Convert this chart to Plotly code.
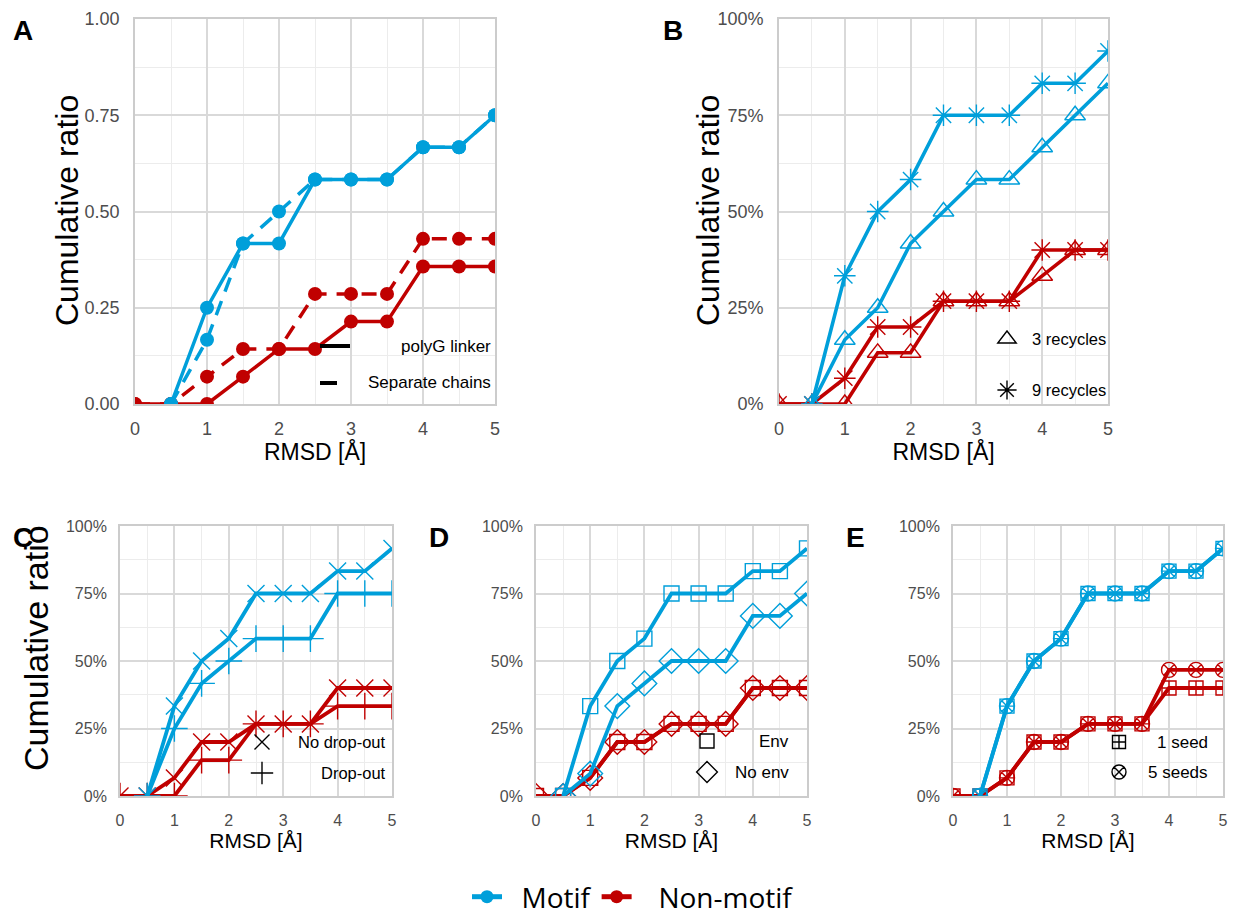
import plotly.graph_objects as go

W, H = 1233, 917
BLUE = "#009FDA"
RED = "#C00000"
FONT = "Liberation Sans"

# ---------------- data ----------------
rmsd = [0, 0.5, 1, 1.5, 2, 2.5, 3, 3.5, 4, 4.5, 5]

# Panel A : polyG linker vs separate chains
a_motif_linker = [None, 0, 0.250, 0.417, 0.417, 0.583, 0.583, 0.583, 0.667, 0.667, 0.750]
a_motif_separate = [None, 0, 0.167, 0.417, 0.500, 0.583, 0.583, 0.583, 0.667, 0.667, 0.750]
a_non_linker = [0, 0, 0, 0.071, 0.143, 0.143, 0.214, 0.214, 0.357, 0.357, 0.357]
a_non_separate = [0, 0, 0.071, 0.143, 0.143, 0.286, 0.286, 0.286, 0.429, 0.429, 0.429]

# Panel B : 3 vs 9 recycles
b_motif_3 = [None, 0, 0.167, 0.250, 0.417, 0.500, 0.583, 0.583, 0.667, 0.750, 0.833]
b_motif_9 = [None, 0, 0.333, 0.500, 0.583, 0.750, 0.750, 0.750, 0.833, 0.833, 0.917]
b_non_3 = [0, 0, 0, 0.133, 0.133, 0.267, 0.267, 0.267, 0.333, 0.400, 0.400]
b_non_9 = [0, 0, 0.067, 0.200, 0.200, 0.267, 0.267, 0.267, 0.400, 0.400, 0.400]

# Panel C : no drop-out vs drop-out
c_motif_nodrop = [None, 0, 0.333, 0.500, 0.583, 0.750, 0.750, 0.750, 0.833, 0.833, 0.917]
c_motif_drop = [None, 0, 0.250, 0.417, 0.500, 0.583, 0.583, 0.583, 0.750, 0.750, 0.750]
c_non_nodrop = [0, 0, 0.067, 0.200, 0.200, 0.267, 0.267, 0.267, 0.400, 0.400, 0.400]
c_non_drop = [0, 0, 0, 0.133, 0.133, 0.267, 0.267, 0.267, 0.333, 0.333, 0.333]

# Panel D : env vs no env
d_motif_env = [None, 0, 0.333, 0.500, 0.583, 0.750, 0.750, 0.750, 0.833, 0.833, 0.917]
d_motif_noenv = [None, 0, 0.083, 0.333, 0.417, 0.500, 0.500, 0.500, 0.667, 0.667, 0.750]
d_non_env = [0, 0, 0.067, 0.200, 0.200, 0.267, 0.267, 0.267, 0.400, 0.400, 0.400]
d_non_noenv = [0, 0, 0.067, 0.200, 0.200, 0.267, 0.267, 0.267, 0.400, 0.400, 0.400]

# Panel E : 1 seed vs 5 seeds
e_motif_1 = [None, 0, 0.333, 0.500, 0.583, 0.750, 0.750, 0.750, 0.833, 0.833, 0.917]
e_motif_5 = [None, 0, 0.333, 0.500, 0.583, 0.750, 0.750, 0.750, 0.833, 0.833, 0.917]
e_non_1 = [0, 0, 0.067, 0.200, 0.200, 0.267, 0.267, 0.267, 0.400, 0.400, 0.400]
e_non_5 = [0, 0, 0.067, 0.200, 0.200, 0.267, 0.267, 0.267, 0.467, 0.467, 0.467]

x_ticks = [0, 1, 2, 3, 4, 5]
y_ticks = [0, 0.25, 0.5, 0.75, 1.0]

# ---------------- layout helpers ----------------
def px_x(p):
    return p / W

def px_y(p):
    return 1 - p / H

# plot-area boxes in pixels (left, right, top, bottom)
boxes = {
    "A": (135, 495, 19, 404),
    "B": (779, 1108, 19, 404),
    "C": (120, 392, 526, 796),
    "D": (536, 807, 526, 796),
    "E": (953, 1223, 526, 796),
}
axis_ids = {"A": "", "B": "2", "C": "3", "D": "4", "E": "5"}

fig = go.Figure()

def add_series(panel, y, color, symbol, size, width, dash="solid", filled=False):
    aid = axis_ids[panel]
    marker = dict(symbol=symbol, size=size, color=color)
    if not filled:
        marker["line"] = dict(color=color, width=1.4)
    fig.add_trace(go.Scatter(
        x=rmsd, y=y, mode="lines+markers",
        line=dict(color=color, width=width, dash=dash),
        marker=marker, showlegend=False, hoverinfo="skip",
        xaxis="x" + aid, yaxis="y" + aid,
    ))

# Panel A
add_series("A", a_non_separate, RED, "circle", 14, 3.5, dash="15px,10px", filled=True)
add_series("A", a_non_linker, RED, "circle", 14, 3.5, filled=True)
add_series("A", a_motif_separate, BLUE, "circle", 14, 3.5, dash="15px,10px", filled=True)
add_series("A", a_motif_linker, BLUE, "circle", 14, 3.5, filled=True)
# Panel B
add_series("B", b_non_3, RED, "triangle-up-open", 18, 3.6)
add_series("B", b_non_9, RED, "asterisk-open", 18, 3.6)
add_series("B", b_motif_3, BLUE, "triangle-up-open", 18, 3.6)
add_series("B", b_motif_9, BLUE, "asterisk-open", 18, 3.6)
# Panel C
add_series("C", c_non_drop, RED, "cross-thin-open", 19, 3.8)
add_series("C", c_non_nodrop, RED, "x-thin-open", 17, 3.8)
add_series("C", c_motif_drop, BLUE, "cross-thin-open", 19, 3.8)
add_series("C", c_motif_nodrop, BLUE, "x-thin-open", 17, 3.8)
# Panel D
add_series("D", d_non_noenv, RED, "diamond-open", 19, 3.8)
add_series("D", d_non_env, RED, "square-open", 15, 3.8)
add_series("D", d_motif_noenv, BLUE, "diamond-open", 19, 3.8)
add_series("D", d_motif_env, BLUE, "square-open", 15, 3.8)
# Panel E
add_series("E", e_non_5, RED, "circle-x-open", 15, 3.8)
add_series("E", e_non_1, RED, "square-cross-open", 14, 3.8)
add_series("E", e_motif_5, BLUE, "circle-x-open", 15, 3.8)
add_series("E", e_motif_1, BLUE, "square-cross-open", 14, 3.8)

# ---------------- axes ----------------
layout = dict(
    width=W, height=H, template="none",
    margin=dict(l=0, r=0, t=0, b=0, autoexpand=False),
    paper_bgcolor="white", plot_bgcolor="white",
    font=dict(family=FONT, color="black"),
    showlegend=True,
)

for panel, (l, r, t, b) in boxes.items():
    aid = axis_ids[panel]
    big = panel in ("A", "B")
    tfs = 18 if big else 16
    layout["xaxis" + aid] = dict(
        domain=[px_x(l), px_x(r)], range=[0, 5], anchor="y" + aid,
        tickvals=x_ticks, ticktext=[str(v) for v in x_ticks],
        showgrid=True, gridcolor="#d9d9d9", gridwidth=1.8,
        minor=dict(dtick=0.5, tick0=0, showgrid=True, gridcolor="#ececec", gridwidth=1.1),
        showline=True, linecolor="#cccccc", linewidth=1.8, mirror=True,
        zeroline=False, ticks="", ticklabelstandoff=7 if big else 9,
        tickfont=dict(size=tfs, color="#4d4d4d", family=FONT),
        title=dict(text="RMSD [Å]", font=dict(size=23 if big else 21, color="black", family=FONT),
                   standoff=0 if big else 3),
        fixedrange=True, automargin=False,
    )
    if panel == "A":
        ytext = [f"{v:.2f}" for v in y_ticks]
    else:
        ytext = [f"{int(round(v * 100))}%" for v in y_ticks]
    layout["yaxis" + aid] = dict(
        domain=[px_y(b), px_y(t)], range=[0, 1], anchor="x" + aid,
        tickvals=y_ticks, ticktext=ytext,
        showgrid=True, gridcolor="#d9d9d9", gridwidth=1.8,
        minor=dict(dtick=0.125, tick0=0, showgrid=True, gridcolor="#ececec", gridwidth=1.1),
        showline=True, linecolor="#cccccc", linewidth=1.8, mirror=True,
        zeroline=False, ticks="", ticklabelstandoff=10 if big else 8,
        tickfont=dict(size=tfs, color="#4d4d4d", family=FONT),
        fixedrange=True, automargin=False,
    )

annotations = []
# y-axis titles (rotated text)
ytitles = {"A": (67, 211, 32), "B": (708, 211, 32), "C": (36, 648, 34)}
for k, (cx, cy, fs) in ytitles.items():
    annotations.append(dict(text="Cumulative ratio", x=px_x(cx), y=px_y(cy), xref="paper", yref="paper",
                            xanchor="center", yanchor="middle", textangle=-90, showarrow=False,
                            font=dict(size=fs, family=FONT, color="black")))

# ---------------- panel letters ----------------
letters = {"A": (11, 30), "B": (661, 30), "C": (11, 537), "D": (427, 537), "E": (844, 537)}
for k, (lx, ly) in letters.items():
    annotations.append(dict(text=f"<b>{k}</b>", x=px_x(lx), y=px_y(ly), xref="paper", yref="paper",
                            xanchor="left", yanchor="middle", showarrow=False,
                            font=dict(size=28, family=FONT, color="black")))

# ---------------- in-panel keys (each in its own legend) ----------------
keys = [
    # legend id, name, key center px, text right px, text size, trace style
    ("legend2", "polyG linker", (335, 346), 493, 17,
     dict(mode="lines", line=dict(color="black", width=4))),
    ("legend3", "Separate chains", (335, 383), 493, 17,
     dict(mode="lines", line=dict(color="black", width=4, dash="17px,40px"))),
    ("legend4", "3 recycles", (1007, 339), 1108, 16.5,
     dict(mode="markers", marker=dict(symbol="triangle-up-open", size=16, color="black", line=dict(width=1.4, color="black")))),
    ("legend5", "9 recycles", (1007, 390), 1108, 16.5,
     dict(mode="markers", marker=dict(symbol="asterisk-open", size=16, color="black", line=dict(width=1.4, color="black")))),
    ("legend6", "No drop-out", (262, 742), 388, 16.5,
     dict(mode="markers", marker=dict(symbol="x-thin-open", size=15, color="black", line=dict(width=1.4, color="black")))),
    ("legend7", "Drop-out", (262, 773), 388, 16.5,
     dict(mode="markers", marker=dict(symbol="cross-thin-open", size=16, color="black", line=dict(width=1.4, color="black")))),
    ("legend8", "Env", (707, 741), 791, 17,
     dict(mode="markers", marker=dict(symbol="square-open", size=14, color="black", line=dict(width=1.4, color="black")))),
    ("legend9", "No env", (707, 772), 791, 17,
     dict(mode="markers", marker=dict(symbol="diamond-open", size=16, color="black", line=dict(width=1.4, color="black")))),
    ("legend10", "1 seed", (1119, 742), 1210, 17,
     dict(mode="markers", marker=dict(symbol="square-cross-open", size=13, color="black", line=dict(width=1.4, color="black")))),
    ("legend11", "5 seeds", (1119, 772), 1210, 17,
     dict(mode="markers", marker=dict(symbol="circle-x-open", size=14, color="black", line=dict(width=1.4, color="black")))),
]
for lid, name, (cx, cy), tr, fs, style in keys:
    fig.add_trace(go.Scatter(x=[None], y=[None], name=" ", legend=lid, showlegend=True,
                             hoverinfo="skip", **style))
    layout[lid] = dict(x=px_x(cx - 20), xanchor="left", y=px_y(cy), yanchor="middle",
                       bgcolor="rgba(0,0,0,0)", borderwidth=0, font=dict(size=10),
                       itemclick=False, itemdoubleclick=False)
    annotations.append(dict(text=name, x=px_x(tr), y=px_y(cy), xref="paper", yref="paper",
                            xanchor="right", yanchor="middle", showarrow=False,
                            font=dict(size=fs, family=FONT, color="black")))

# ---------------- bottom legend ----------------
fig.add_trace(go.Scatter(x=[None], y=[None], name="\u00a0\u00a0Motif", mode="lines+markers",
                         line=dict(color=BLUE, width=5), marker=dict(color=BLUE, size=13),
                         legend="legend", hoverinfo="skip"))
fig.add_trace(go.Scatter(x=[None], y=[None], name="\u00a0\u00a0\u00a0Non-motif", mode="lines+markers",
                         line=dict(color=RED, width=5), marker=dict(color=RED, size=13),
                         legend="legend", hoverinfo="skip"))
layout["legend"] = dict(orientation="h", x=px_x(633), xanchor="center", y=px_y(897), yanchor="middle",
                        bgcolor="rgba(0,0,0,0)", borderwidth=0,
                        font=dict(size=28, family="Open Sans", color="black"),
                        itemclick=False, itemdoubleclick=False)

layout["annotations"] = annotations
fig.update_layout(**layout)
fig.write_html("out.html")
